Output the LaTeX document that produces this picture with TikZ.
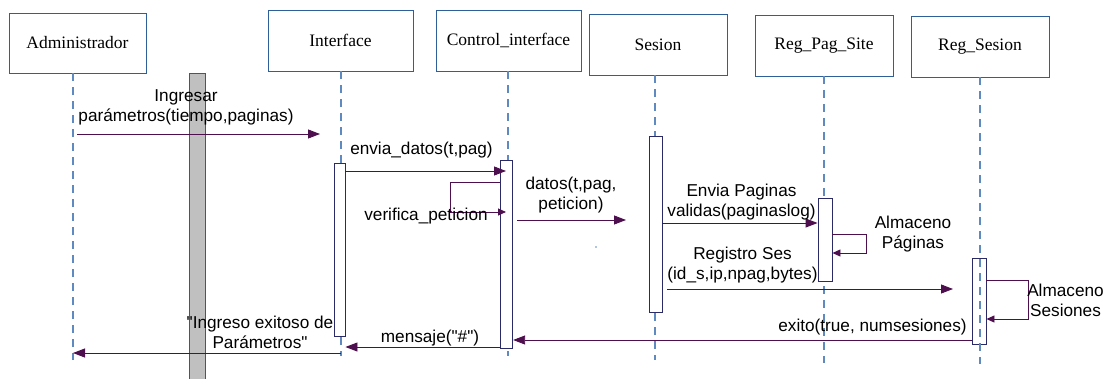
\documentclass[tikz,border=0pt]{standalone}
\usepackage{fontspec}
\setmainfont{Liberation Serif}
\newfontfamily\arialf{Liberation Sans}
\usetikzlibrary{arrows.meta}
\definecolor{cajaazul}{HTML}{2F5F98}
\definecolor{vidaazul}{HTML}{5F8AC0}
\definecolor{activo}{HTML}{2A2A66}
\definecolor{mensaje}{HTML}{4D0F4D}
\definecolor{propio}{HTML}{84507F}
\definecolor{barra}{HTML}{C0C0C0}
\newcommand*{\ancho }{138pt}
\newcommand*{\alto  }{61pt}
\newcommand*{\msgfont}{\arialf\fontsize{17.2}{20}\selectfont}

\begin{document}
\begin{tikzpicture}[x=1pt, y=-1pt,
    clase/.style={draw=cajaazul, line width=0.9pt, minimum width=\ancho, minimum height=\alto, inner sep=0pt, font=\fontsize{17.5}{20}\selectfont},
    vida/.style={draw=vidaazul, line width=1.2pt, dash pattern=on 8pt off 6pt},
    activa/.style={draw=activo, fill=white, line width=0.9pt, minimum width=12pt, inner sep=0pt},
    msg/.style={draw=mensaje, line width=0.9pt, -{Triangle[length=12pt,width=9pt]}},
    bucle/.style={draw=propio, line width=0.9pt, -{Triangle[length=8pt,width=7pt]}, mensaje},
    etiq/.style={font=\msgfont, align=center, inner sep=0pt}]
    \useasboundingbox (0,0) rectangle (1117,378);
    % barra gris
    \draw [fill=barra, draw=mensaje!80!white, line width=0.8pt] (189,73) rectangle (205,380);
    % clases
    \node [clase, minimum width=137pt, minimum height=60pt] (adm) at (77.5,43)   {Administrador};
    \node [clase, minimum width=145pt] (inter) at (340.5,40.5) {Interface};
    \node [clase, minimum width=145pt] (ctrl)  at (508.5,40.5) {Control\_interface};
    \node [clase] (ses)   at (658,44.5) {Sesion};
    \node [clase] (pag)   at (824,45.5) {Reg\_Pag\_Site};
    \node [clase] (rses)  at (980,46.5) {Reg\_Sesion};
    % lineas de vida
    \coordinate (admv)   at (73,360);
    \coordinate (interv) at (341,356);
    \coordinate (ctrlv)  at (508,356);
    \coordinate (sesv)   at (655,360);
    \coordinate (pagv)   at (824,363);
    \coordinate (rsesv)  at (980,364);
    \draw [vida] (adm.south -| admv) -- (admv);
    \draw [vida] (inter.south -| interv) -- (interv);
    \draw [vida] (ctrl.south -| ctrlv) -- (ctrlv);
    \draw [vida] (ses.south -| sesv) -- (sesv);
    \draw [vida] (pag.south -| pagv) -- (pagv);
    % activaciones
    \node [activa, minimum width=11pt, minimum height=173pt] (interact) at (339.5,249.5) {};
    \node [activa, minimum height=188pt] (ctrlact) at (506.7,254) {};
    \node [activa, minimum width=13pt, minimum height=176pt] (sesact) at (655.5,224) {};
    \node [activa, minimum width=14pt, minimum height=83pt] (pagact) at (825,239.5) {};
    \node [activa, fill=none, minimum width=14pt, minimum height=86pt] (rsesact) at (979,301) {};
    \draw [vida] (rses.south -| rsesv) -- (rsesv);
    % mensajes
    \coordinate (ingresa) at (320,134);
    \draw [msg] (77,134) -- (ingresa);
    \node [etiq] (lingresa) at (186,107.5) {Ingresar\\par\'ametros(tiempo,paginas)};
    \coordinate (envia) at (506,171);
    \draw [msg] (interact.east |- envia) -- (envia);
    \node [etiq] (lenvia) at (421.5,150) {envia\_datos(t,pag)};
    \coordinate (verifica) at (506,212);
    \draw [bucle] (ctrlact.west |- 0,182) -| (450,212) -- (verifica);
    \node [etiq] (lverifica) at (426,216.5) {verifica\_peticion};
    \coordinate (datos) at (626,220);
    \draw [msg] (517,220) -- (datos);
    \node [etiq] (ldatos) at (571,195) {datos(t,pag,\\peticion)};
    \coordinate (validas) at (pagact.west |- 0,223);
    \draw [msg] (sesact.east |- validas) -- (validas);
    \node [etiq] (lvalidas) at (741.5,202) {Envia Paginas\\validas(paginaslog)};
    \coordinate (almpag) at (pagact.east |- 0,253);
    \draw [bucle] (pagact.east |- 0,234) -| (866,253) -- (almpag);
    \node [etiq] (lalmpag) at (913,234) {Almaceno\\P\'aginas};
    \coordinate (registro) at (953,289);
    \draw [msg] (667,289) -- (registro);
    \node [etiq] (lregistro) at (742.5,265.5) {Registro Ses\\(id\_s,ip,npag,bytes)};
    \coordinate (almses) at (rsesact.east |- 0,319);
    \draw [bucle] (rsesact.east |- 0,280) -| (1028,319) -- (almses);
    \node [etiq] (lalmses) at (1065.5,300.5) {Almaceno\\Sesiones};
    \coordinate (exito) at (ctrlact.east |- 0,340);
    \draw [msg] (rsesact.west |- exito) -- (exito);
    \node [etiq] (lexito) at (872.5,327) {exito(true, numsesiones)};
    \coordinate (mensaje) at (interact.east |- 0,347);
    \draw [msg] (ctrlact.west |- mensaje) -- (mensaje);
    \node [etiq] (lmensaje) at (430,338) {mensaje("\#")};
    \coordinate (fin) at (admv |- 0,353);
    \draw [msg] (interv |- fin) -- (fin);
    \node [etiq] (lfin) at (260,332) {"Ingreso exitoso de\\Par\'ametros"};
    \fill [vidaazul] (596,247) circle (0.8pt);
\end{tikzpicture}
\end{document}
